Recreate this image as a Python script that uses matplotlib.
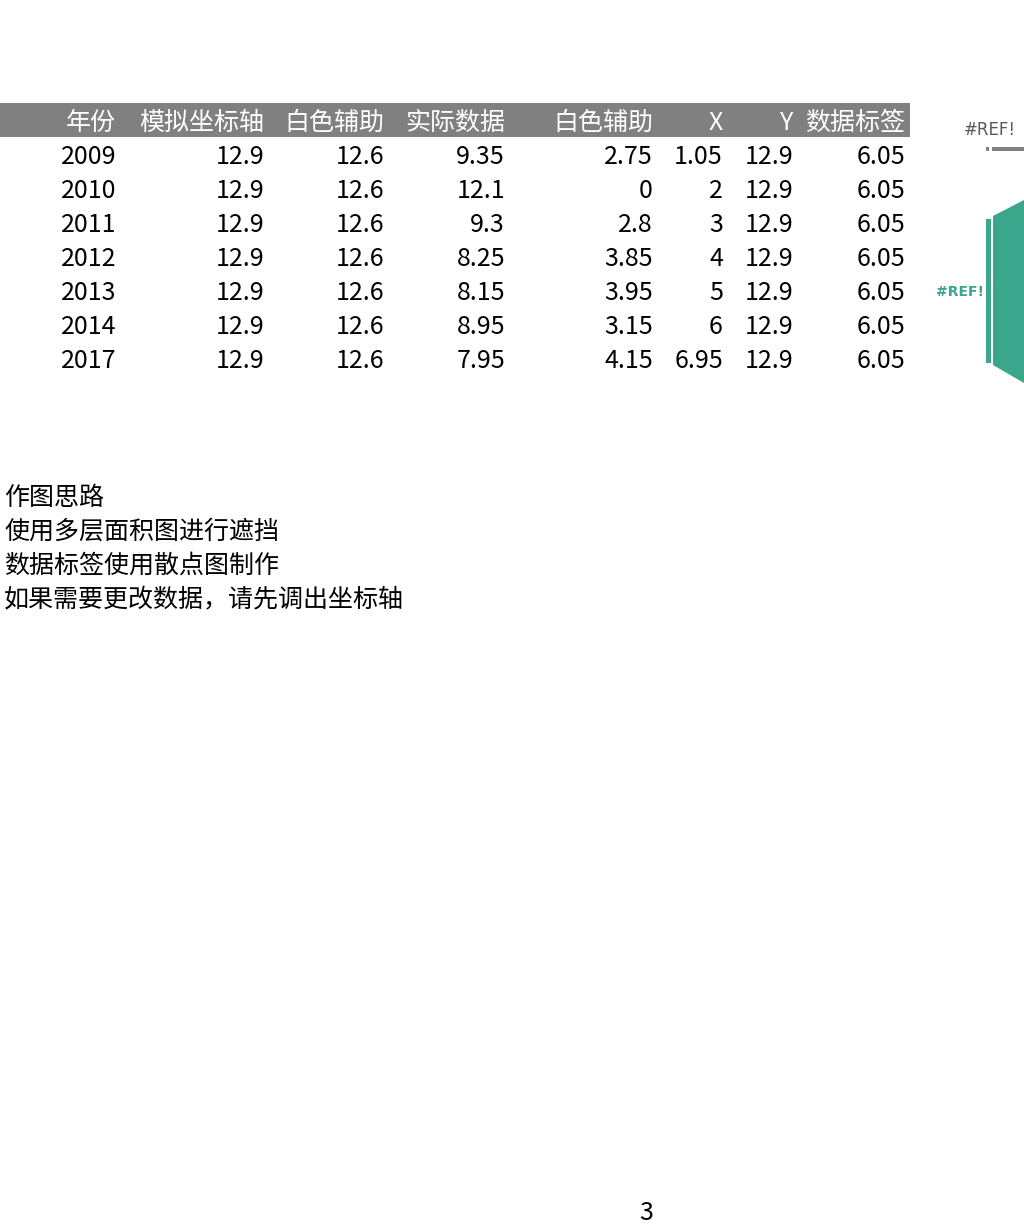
import matplotlib
matplotlib.use("Agg")
import matplotlib.pyplot as plt
from matplotlib.patches import Rectangle, Polygon

plt.rcParams['font.family'] = ['Noto Sans CJK SC', 'DejaVu Sans']

# table data
headers = ['年份', '模拟坐标轴', '白色辅助', '实际数据', '白色辅助', 'X', 'Y', '数据标签']
years = ['2009', '2010', '2011', '2012', '2013', '2014', '2017']
axis_sim = ['12.9'] * 7
white_aux1 = ['12.6'] * 7
actual = ['9.35', '12.1', '9.3', '8.25', '8.15', '8.95', '7.95']
white_aux2 = ['2.75', '0', '2.8', '3.85', '3.95', '3.15', '4.15']
xs = ['1.05', '2', '3', '4', '5', '6', '6.95']
ys = ['12.9'] * 7
labels = ['6.05'] * 7

notes = ['作图思路', '使用多层面积图进行遮挡', '数据标签使用散点图制作', '如果需要更改数据，请先调出坐标轴']

W, H = 1024, 1230
fig = plt.figure(figsize=(W / 100, H / 100), dpi=100)
ax = fig.add_axes([0, 0, 1, 1])
ax.set_xlim(0, W)
ax.set_ylim(H, 0)
ax.axis('off')

col_right = [116, 264, 384, 505, 653, 723, 793, 905]
row_h = 34
header_y = 123
fs = 18

# header band
ax.add_patch(Rectangle((0, 103), 910, 34, color='#808080', lw=0))
for x, h in zip(col_right, headers):
    ax.text(x, header_y, h, ha='right', va='center', fontsize=fs, color='white')

columns = [years, axis_sim, white_aux1, actual, white_aux2, xs, ys, labels]
for c, col in enumerate(columns):
    for r, v in enumerate(col):
        ax.text(col_right[c], header_y + row_h * (r + 1), v, ha='right', va='center',
                fontsize=fs, color='black')

for i, t in enumerate(notes):
    ax.text(4, 498 + 34 * i, t, ha='left', va='center', fontsize=fs, color='black')

# cropped chart at right edge
green = '#3aa68c'
ax.text(990, 130, '#REF!', ha='center', va='center', fontsize=12, color='#595959',
        family='DejaVu Sans')
ax.add_patch(Rectangle((986, 147), 3, 4, color='#808080', lw=0))
ax.add_patch(Rectangle((992, 147), 32, 4, color='#808080', lw=0))
ax.add_patch(Rectangle((986, 219), 5, 144, color=green, lw=0))
ax.add_patch(Polygon([(993, 216), (1024, 200), (1024, 383), (993, 365)],
                     closed=True, color=green, lw=0))
ax.text(984, 292, '#REF!', ha='right', va='center', fontsize=10, color=green,
        family='DejaVu Sans', fontweight='bold')

ax.text(646, 1213, '3', ha='center', va='center', fontsize=fs, color='black')

fig.savefig('out.png', dpi=100)
